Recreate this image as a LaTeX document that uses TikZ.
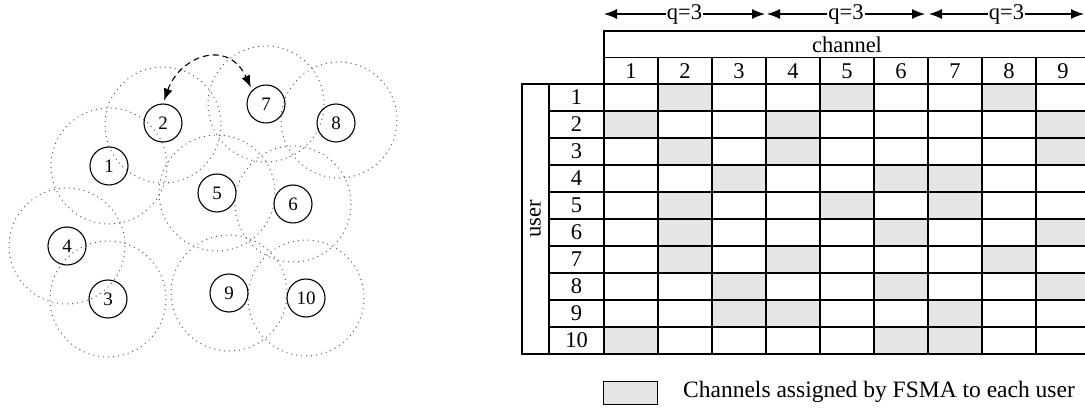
\documentclass[tikz,border=0pt]{standalone}
\usepackage{fontspec}
\setmainfont{Liberation Serif}
\usetikzlibrary{arrows.meta}
\begin{document}
\begin{tikzpicture}[x=1pt,y=-1pt,
  station/.style={circle,draw,line width=1.1pt,minimum size=38pt,inner sep=0pt,
                  font=\fontsize{19}{19}\selectfont},
  coverage/.style={draw=black!65,line width=1pt,dash pattern=on 1pt off 4pt},
  cellbox/.style={draw=black,line width=1.3pt},
  busy/.style={fill=gray!20},
  lbl/.style={font=\fontsize{22.5}{22.5}\selectfont,inner sep=0pt},
  groupspan/.style={line width=1.1pt,{Latex[length=13pt,width=10pt]}-{Latex[length=13pt,width=10pt]}},
  swapline/.style={line width=1.1pt,dash pattern=on 6pt off 4pt,
               {Latex[length=12pt,width=9pt]}-{Latex[length=12pt,width=9pt]}}
]
\useasboundingbox (0,0) rectangle (1085,411);
\clip (0,0) rectangle (1085,411);

% coverage ranges of the users
\foreach \x/\y in {109/166, 163/125, 108/299, 67/246, 217/193,
                   293/204, 266/104, 339/120, 229/293, 306/298} {
  \draw[coverage] (\x,\y) circle[radius=58];
}

% users
\foreach \n/\x/\y in {1/109/166, 2/163/123, 3/108/299, 4/67/246, 5/217/193,
                      6/293/204, 7/266/104, 8/336/123, 9/229/293, 10/306/298} {
  \node[station] (u\n) at (\x,\y) {\n};
}

% channel exchange between users 2 and 7
\draw[swapline,shorten <=3pt,shorten >=3pt] (u2.north) .. controls (180,56) and (228,38) .. (u7.north west);

% q-groups above the table
\coordinate (g0) at (604,14);
\coordinate (g1) at (765,14);
\coordinate (g2) at (767,14);
\coordinate (g3) at (925,14);
\coordinate (g4) at (929,14);
\coordinate (g5) at (1084,14);
\draw[groupspan] (g0) -- node[lbl,fill=white,inner xsep=1pt] (q1) {q=3} (g1);
\draw[groupspan] (g2) -- node[lbl,fill=white,inner xsep=1pt] (q2) {q=3} (g3);
\draw[groupspan] (g4) -- node[lbl,fill=white,inner xsep=1pt] (q3) {q=3} (g5);

% assigned channels
\foreach \r/\a/\b/\c in {1/2/5/8, 2/1/4/9, 3/2/4/9, 4/3/6/7, 5/2/5/7,
                         6/2/6/9, 7/2/4/8, 8/3/6/9, 9/3/4/7, 10/1/6/7} {
  \foreach \k in {\a,\b,\c} {
    \fill[busy] ({604+54*(\k-1)},{84+27*(\r-1)}) rectangle ++(54,27);
  }
}

% table header
\draw[cellbox] (604,31) rectangle (1090,57.5);
\node[lbl] (chan) at (847,44.5) {channel};
\foreach \k in {1,...,9} {
  \draw[cellbox] ({604+54*(\k-1)},57.5) rectangle ++(54,26.5);
  \node[lbl] (c\k) at ({577+54*\k},70.75) {\k};
}

% table body
\draw[cellbox] (522,84) rectangle (549,354);
\node[lbl,rotate=90] (usr) at (535.5,219) {user};
\foreach \r in {1,...,10} {
  \draw[cellbox] (549,{84+27*(\r-1)}) rectangle ++(55,27);
  \node[lbl] (r\r) at (576.5,{70.5+27*\r}) {\r};
  \foreach \k in {1,...,9} {
    \draw[cellbox] ({604+54*(\k-1)},{84+27*(\r-1)}) rectangle ++(54,27);
  }
}

% legend
\node[draw,busy,line width=0.8pt,minimum width=54pt,minimum height=23pt,inner sep=0pt] (key) at (630,392.5) {};
\node[lbl,font=\fontsize{23.5}{23.5}\selectfont,anchor=west] (keytext) at (683,392) {Channels assigned by FSMA to each user};
\end{tikzpicture}
\end{document}
